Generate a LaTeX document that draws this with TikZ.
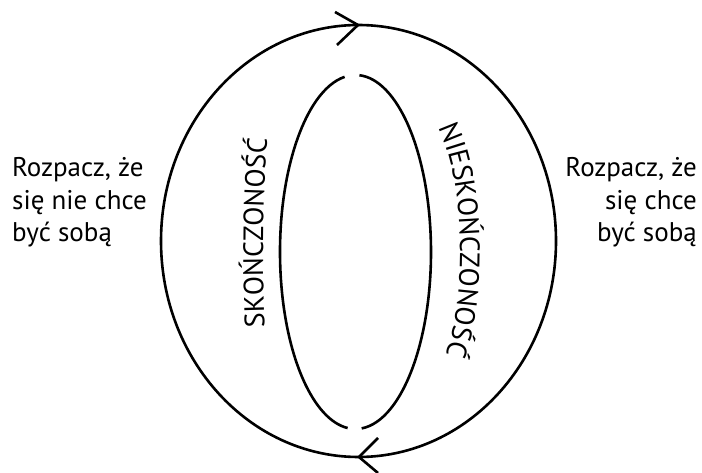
\documentclass[tikz,border=0pt]{standalone}
\usepackage{fontspec}
\setmainfont{PT Sans}
\usetikzlibrary{decorations.text}
\begin{document}
\begin{tikzpicture}[x=1pt,y=1pt,
  line/.style={line width=2.6pt, black, line join=round},
  sidel/.style={font=\fontsize{27}{33}\selectfont, inner sep=0pt, anchor=base west},
  sider/.style={font=\fontsize{27}{33}\selectfont, inner sep=0pt, anchor=base east}]
\useasboundingbox (0,0) rectangle (702,472);
% outer ellipse
\draw[line] (358.5,231) ellipse [x radius=197.5, y radius=216];
% inner ellipse with gaps
\coordinate (ic) at (355.5,220);
\draw[line] (ic) ++(98.3:75.5 and 177) arc[start angle=98.3, end angle=264, x radius=75.5, y radius=177];
\draw[line] (ic) ++(274.7:75.5 and 177) arc[start angle=274.7, end angle=447, x radius=75.5, y radius=177];
% arrows
\coordinate (ttip) at (358,447);
\coordinate (ta1) at (335,460);
\coordinate (ta2) at (337,427);
\draw[line] (ta1) -- (ttip) -- (ta2);
\coordinate (btip) at (359,15);
\coordinate (ba1) at (378,34);
\coordinate (ba2) at (378,-1);
\draw[line] (ba1) -- (btip) -- (ba2);
% side texts
\node[sidel] (l1) at (12,295) {Rozpacz, że};
\node[sidel] (l2) at (12,262.5) {się nie chce};
\node[sidel] (l3) at (12,230) {być sobą};
\node[sider] (r1) at (697,295) {Rozpacz, że};
\node[sider] (r2) at (697,262.5) {się chce};
\node[sider] (r3) at (697,230) {być sobą};
% curved texts
\path[decorate, decoration={text along path, text align=center,
  text={|\fontsize{28}{30}\selectfont|SKOŃCZONOŚĆ}}]
  (265,136) .. controls (262,207) and (262,272) .. (268,342);
\path[decorate, decoration={text along path, text align=center,
  text={|\fontsize{28}{30}\selectfont|NIESKOŃCZONOŚĆ}}]
  (431,357) .. controls (468,302) and (468,162) .. (441,104);
\end{tikzpicture}
\end{document}
